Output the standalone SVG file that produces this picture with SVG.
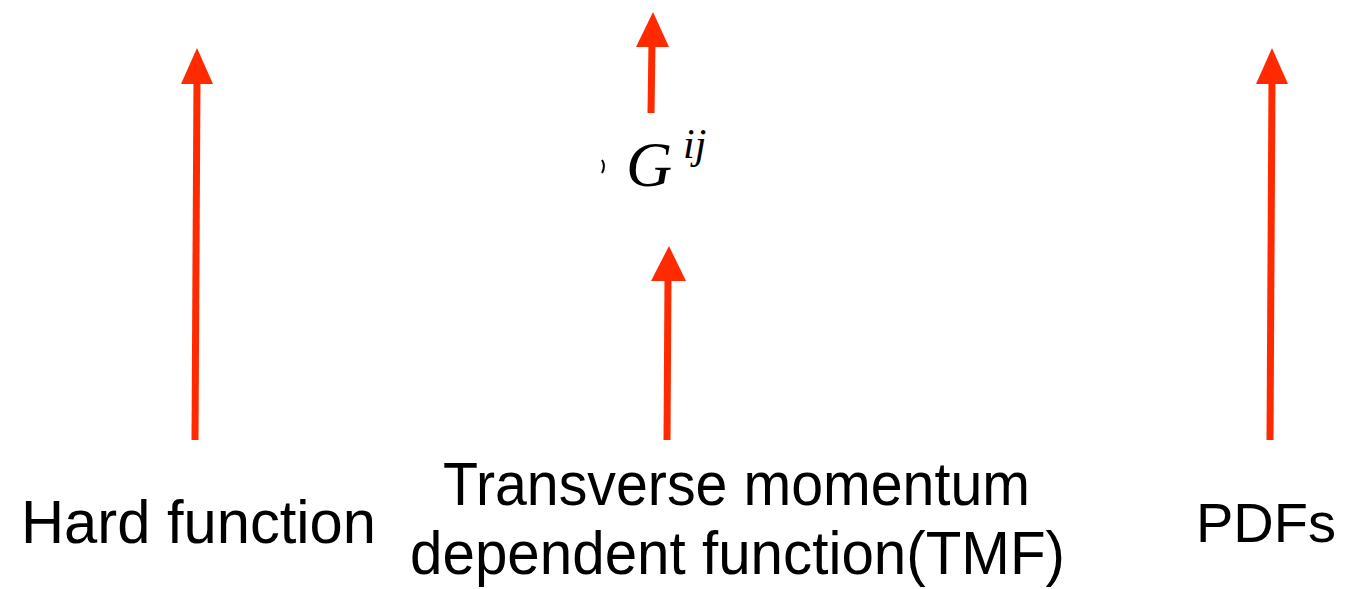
<svg xmlns="http://www.w3.org/2000/svg" width="1345" height="589" viewBox="0 0 1345 589">
<style>
.lbl{font-family:"Liberation Sans","DejaVu Sans",sans-serif;font-size:62px;fill:#000}
.math{font-family:"Liberation Serif","DejaVu Serif",serif;font-style:italic;fill:#000}
.arr{stroke:#ff2a00;stroke-width:7;fill:none}
.head{fill:#ff2a00}
</style>
<rect width="1345" height="589" fill="#fff"/>
<g id="connectors">
<line class="arr" x1="195" y1="440" x2="197" y2="78"/>
<polygon class="head" points="197,48 213,84 181,84"/>
<line class="arr" x1="651" y1="113" x2="652" y2="42"/>
<polygon class="head" points="653,12 669,47 636,47"/>
<line class="arr" x1="667" y1="440" x2="668" y2="276"/>
<polygon class="head" points="669,246 686,281 651,281"/>
<line class="arr" x1="1270" y1="440" x2="1272" y2="78"/>
<polygon class="head" points="1272,48 1288,84 1256,84"/>
</g>
<g id="hard">
<text class="lbl" x="21" y="543" textLength="355" lengthAdjust="spacingAndGlyphs">Hard function</text>
</g>
<g id="tmf">
<text class="lbl" x="443" y="505" textLength="587" lengthAdjust="spacingAndGlyphs">Transverse momentum</text>
<text class="lbl" x="410" y="574" textLength="655" lengthAdjust="spacingAndGlyphs">dependent function(TMF)</text>
</g>
<g id="pdfs">
<text class="lbl" x="1336" y="542" text-anchor="end" style="font-size:56px">PDFs</text>
</g>
<g id="G">
<path d="M602,160 Q606,166 602,173" stroke="#000" stroke-width="2" fill="none"/>
<text class="math" x="626" y="186" font-size="64">G</text>
<text class="math" x="683" y="158" font-size="42">ij</text>
</g>
</svg>
